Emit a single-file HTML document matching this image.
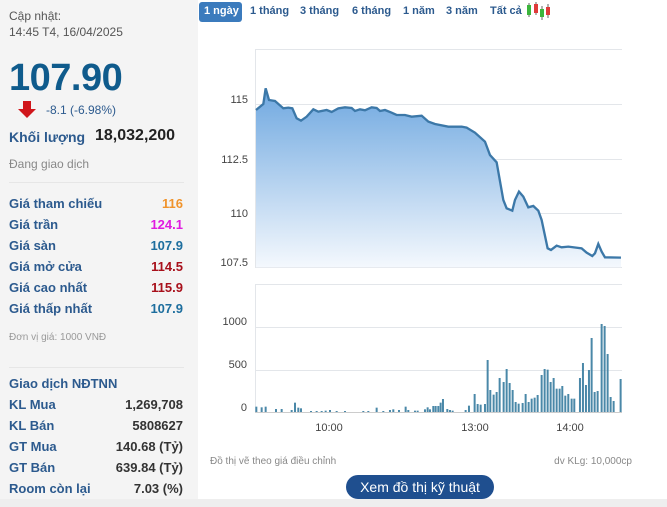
<!DOCTYPE html><html><head><meta charset="utf-8"><style>
body{margin:0;width:667px;height:507px;background:#fff;font-family:"Liberation Sans",sans-serif;position:relative;overflow:hidden}
.l{position:absolute;left:0;top:0;width:198px;height:499px;background:#f4f4f4}
.t{position:absolute;white-space:nowrap}
.b{font-weight:bold;color:#2c5a8e;font-size:13px}
.r{position:absolute;right:15px;font-weight:bold;font-size:13px;text-align:right}
</style></head><body>
<div class="l">
<div class="t" style="left:9px;top:9px;font-size:12px;color:#555">Cập nhật:</div>
<div class="t" style="left:9px;top:25px;font-size:12px;color:#555">14:45 T4, 16/04/2025</div>
<div class="t" style="left:9px;top:57px;font-size:38px;font-weight:bold;color:#0f5b8c;letter-spacing:-0.5px">107.90</div>
<svg style="position:absolute;left:18px;top:101px" width="18" height="17"><path d="M5 0h8v8h5l-9 9-9-9h5z" fill="#d0161b"/></svg>
<div class="t" style="left:46px;top:103px;font-size:12px;color:#2c5a8e">-8.1 (-6.98%)</div>
<div class="t b" style="left:9px;top:129px;font-size:14px">Khối lượng</div>
<div class="t" style="left:95px;top:127px;font-size:16px;font-weight:bold;color:#222">18,032,200</div>
<div class="t" style="left:9px;top:157px;font-size:12px;color:#888">Đang giao dịch</div>
<div style="position:absolute;left:9px;top:182px;width:175px;border-top:1px solid #e6e6e6"></div>
<div class="t b" style="left:9px;top:196px">Giá tham chiếu</div><div class="r" style="top:196px;color:#f0932b">116</div>
<div class="t b" style="left:9px;top:217px">Giá trần</div><div class="r" style="top:217px;color:#e01ae0">124.1</div>
<div class="t b" style="left:9px;top:238px">Giá sàn</div><div class="r" style="top:238px;color:#1d6e9e">107.9</div>
<div class="t b" style="left:9px;top:259px">Giá mở cửa</div><div class="r" style="top:259px;color:#a8101b">114.5</div>
<div class="t b" style="left:9px;top:280px">Giá cao nhất</div><div class="r" style="top:280px;color:#a8101b">115.9</div>
<div class="t b" style="left:9px;top:301px">Giá thấp nhất</div><div class="r" style="top:301px;color:#1d6e9e">107.9</div>
<div class="t" style="left:9px;top:332px;font-size:10px;color:#999">Đơn vị giá: 1000 VNĐ</div>
<div style="position:absolute;left:9px;top:367px;width:175px;border-top:1px solid #e6e6e6"></div>
<div class="t b" style="left:9px;top:376px">Giao dịch NĐTNN</div>
<div class="t b" style="left:9px;top:397px">KL Mua</div><div class="r" style="top:397px;color:#333">1,269,708</div>
<div class="t b" style="left:9px;top:418px">KL Bán</div><div class="r" style="top:418px;color:#333">5808627</div>
<div class="t b" style="left:9px;top:439px">GT Mua</div><div class="r" style="top:439px;color:#333">140.68 (Tỷ)</div>
<div class="t b" style="left:9px;top:460px">GT Bán</div><div class="r" style="top:460px;color:#333">639.84 (Tỷ)</div>
<div class="t b" style="left:9px;top:481px">Room còn lại</div><div class="r" style="top:481px;color:#333">7.03 (%)</div>
</div>
<div style="position:absolute;left:0;top:499px;width:667px;height:8px;background:#eee"></div>
<div style="position:absolute;left:199px;top:2px;width:43px;height:20px;background:#3b7bbd;border-radius:3px"></div>
<div class="t" style="left:204px;top:5px;font-size:11px;font-weight:bold;color:#fff">1 ngày</div>
<div class="t" style="left:250px;top:5px;font-size:11px;font-weight:bold;color:#2c5a8e">1 tháng</div>
<div class="t" style="left:300px;top:5px;font-size:11px;font-weight:bold;color:#2c5a8e">3 tháng</div>
<div class="t" style="left:352px;top:5px;font-size:11px;font-weight:bold;color:#2c5a8e">6 tháng</div>
<div class="t" style="left:403px;top:5px;font-size:11px;font-weight:bold;color:#2c5a8e">1 năm</div>
<div class="t" style="left:446px;top:5px;font-size:11px;font-weight:bold;color:#2c5a8e">3 năm</div>
<div class="t" style="left:490px;top:5px;font-size:11px;font-weight:bold;color:#2c5a8e">Tất cả</div>
<svg style="position:absolute;left:525px;top:1px" width="26" height="20"><g stroke="#666" stroke-width="1"><line x1="4" y1="2" x2="4" y2="16"/><line x1="11" y1="1" x2="11" y2="14"/><line x1="17" y1="5" x2="17" y2="19"/><line x1="23" y1="3" x2="23" y2="17"/></g><rect x="2" y="4" width="4" height="10" fill="#3cb53c"/><rect x="9" y="3" width="4" height="9" fill="#e03a3a"/><rect x="15" y="8" width="4" height="8" fill="#3cb53c"/><rect x="21" y="6" width="4" height="8" fill="#e03a3a"/></svg>
<svg style="position:absolute;left:0;top:0" width="667" height="507">
<defs><linearGradient id="g" x1="0" y1="0" x2="0" y2="1"><stop offset="0" stop-color="#6fa8e0"/><stop offset="1" stop-color="#f4f8fd"/></linearGradient></defs>
<g stroke="#e3e6ea" stroke-width="1"><line x1="255" y1="49.5" x2="622" y2="49.5"/><line x1="255" y1="104.5" x2="622" y2="104.5"/><line x1="255" y1="159.5" x2="622" y2="159.5"/><line x1="255" y1="213.5" x2="622" y2="213.5"/><line x1="255" y1="267.5" x2="622" y2="267.5"/>
<line x1="255.5" y1="49" x2="255.5" y2="268"/>
<line x1="255" y1="284.5" x2="622" y2="284.5"/><line x1="255" y1="327.5" x2="622" y2="327.5"/><line x1="255" y1="370.5" x2="622" y2="370.5"/><line x1="255.5" y1="284" x2="255.5" y2="412"/></g>
<g font-size="11" fill="#444" text-anchor="end"><text x="248" y="103">115</text><text x="248" y="163">112.5</text><text x="248" y="217">110</text><text x="248" y="266">107.5</text>
<text x="247" y="325">1000</text><text x="247" y="368">500</text><text x="247" y="411">0</text></g>
<g font-size="11" fill="#444" text-anchor="middle"><text x="329" y="431">10:00</text><text x="475" y="431">13:00</text><text x="570" y="431">14:00</text></g>
<g transform="translate(195,0) scale(0.3333)">
<path d="M183,330 205,312 212,265 222,300 240,303 265,325 280,323 292,325 305,355 318,362 335,350 355,328 370,335 395,330 410,336 430,325 450,322 470,324 480,333 495,328 510,331 530,322 545,324 555,333 570,330 590,338 605,345 630,345 650,350 680,347 700,365 720,372 760,380 800,380 815,383 840,398 870,425 885,465 905,487 925,600 935,625 952,632 960,600 972,575 985,590 1000,622 1015,618 1030,632 1040,660 1058,745 1068,750 1085,737 1100,742 1120,740 1160,745 1175,758 1192,768 1200,760 1210,732 1220,755 1230,772 1278,773 L1278,802 183,802Z" fill="url(#g)"/>
<path d="M183,330 205,312 212,265 222,300 240,303 265,325 280,323 292,325 305,355 318,362 335,350 355,328 370,335 395,330 410,336 430,325 450,322 470,324 480,333 495,328 510,331 530,322 545,324 555,333 570,330 590,338 605,345 630,345 650,350 680,347 700,365 720,372 760,380 800,380 815,383 840,398 870,425 885,465 905,487 925,600 935,625 952,632 960,600 972,575 985,590 1000,622 1015,618 1030,632 1040,660 1058,745 1068,750 1085,737 1100,742 1120,740 1160,745 1175,758 1192,768 1200,760 1210,732 1220,755 1230,772 1278,773" fill="none" stroke="#3c78a8" stroke-width="7"/>
</g>
<g transform="translate(195,270) scale(0.3333)" stroke="#4a88a8" stroke-width="6" id="v"></g>
<line x1="255" y1="412.5" x2="622" y2="412.5" stroke="#ccc"/>
<text x="210" y="464" font-size="10" fill="#888">Đồ thị vẽ theo giá điều chỉnh</text>
<text x="632" y="464" font-size="10" fill="#888" text-anchor="end">dv KLg: 10,000cp</text>
<rect x="346" y="475" width="148" height="24" rx="12" fill="#1f4f8f"/>
<text x="420" y="492" font-size="14" fill="#fff" text-anchor="middle">Xem đồ thị kỹ thuật</text>
</svg>
<script>
var d=[[184,410],[200,412],[212,410],[243,417],[260,417],[290,420],[300,398],[310,413],[318,415],[348,423],[365,423],[380,423],[392,422],[405,420],[425,423],[450,423],[505,423],[520,423],[545,413],[565,423],[585,420],[595,418],[612,420],[632,410],[640,420],[660,422],[668,422],[690,418],[698,412],[705,418],[715,408],[722,408],[730,408],[737,398],[744,387],[757,417],[765,420],[773,422],[812,420],[822,407],[839,372],[848,402],[857,404],[870,402],[878,270],[886,360],[896,374],[905,366],[914,324],[926,336],[935,297],[944,339],[953,360],[962,396],[971,401],[983,399],[992,372],[1001,396],[1010,386],[1019,383],[1028,375],[1040,315],[1049,297],[1058,299],[1067,336],[1076,324],[1085,356],[1094,356],[1102,348],[1111,377],[1120,372],[1130,386],[1138,386],[1155,324],[1164,279],[1173,345],[1182,300],[1190,204],[1199,366],[1208,363],[1220,162],[1229,168],[1238,252],[1247,381],[1256,393],[1277,327]];
var g=document.getElementById('v'),s='';d.forEach(function(p){s+='<line x1="'+p[0]+'" x2="'+p[0]+'" y1="427" y2="'+p[1]+'"/>';});g.innerHTML=s;
</script>
</body></html>
